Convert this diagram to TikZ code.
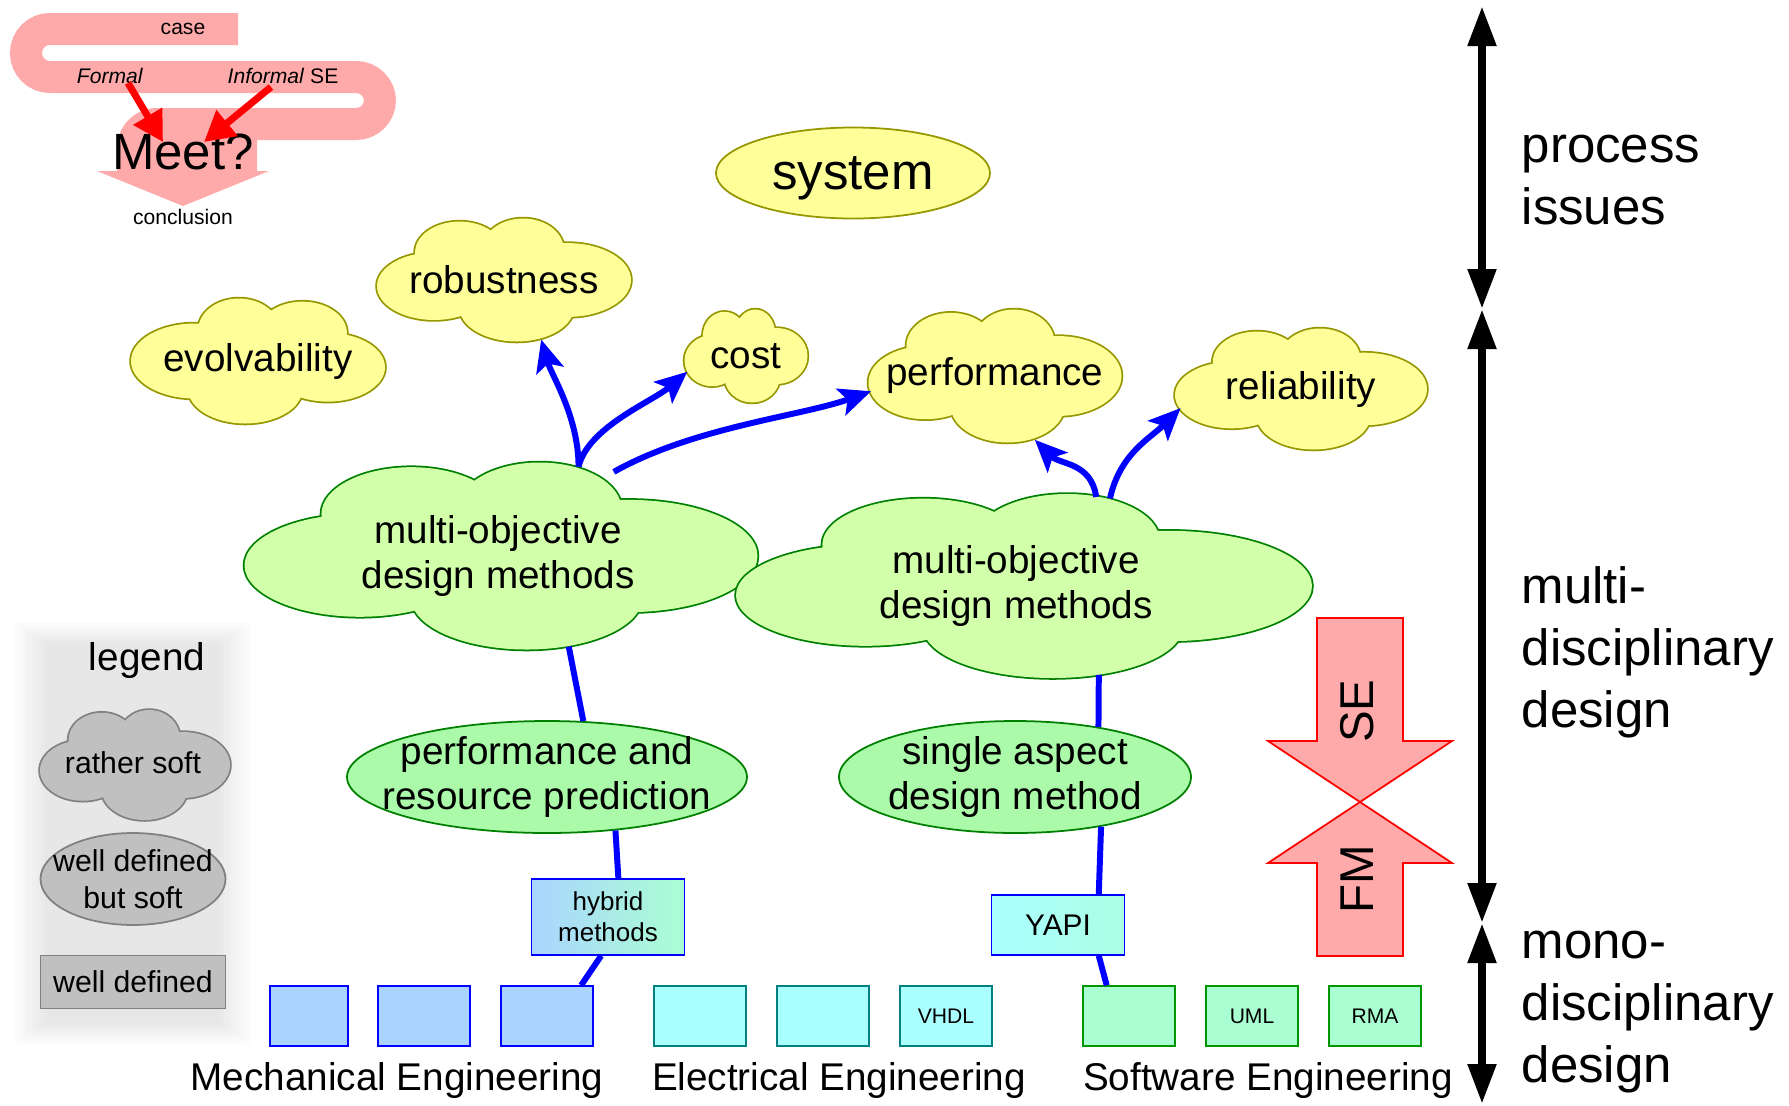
\documentclass[tikz,border=0pt]{standalone}
\usepackage{fontspec}
\setmainfont{Liberation Sans}
\usetikzlibrary{shapes.geometric,arrows.meta}

\definecolor{yellowfill}{RGB}{255,255,153}
\definecolor{yellowline}{RGB}{150,150,0}
\definecolor{mofill}{RGB}{210,255,170}
\definecolor{greenline}{RGB}{0,128,0}
\definecolor{ellfill}{RGB}{170,250,170}
\definecolor{mechfill}{RGB}{170,212,255}
\definecolor{elecfill}{RGB}{170,255,255}
\definecolor{elecline}{RGB}{0,128,128}
\definecolor{softfill}{RGB}{170,255,210}
\definecolor{softline}{RGB}{0,150,0}
\definecolor{pinkband}{RGB}{255,170,170}
\definecolor{legfill}{RGB}{192,192,192}
\definecolor{legline}{RGB}{128,128,128}

% Wolke aus Ellipsen (Einheitsbox -1..1)
\newcommand{\cloudlobes}{(-0.55,0.1) ellipse (0.45 and 0.55) (-0.35,-0.45) ellipse (0.35 and 0.5)
    (0.15,-0.5) ellipse (0.32 and 0.5) (0.5,0) ellipse (0.5 and 0.6) (0.1,0.45) ellipse (0.45 and 0.55)
    (0,0) ellipse (0.6 and 0.45)}
\tikzset{pics/puff/.style n args={2}{code={
    \draw[#2, line width=1pt] \cloudlobes;
    \fill[#1] \cloudlobes;
}}}

\begin{document}
\begin{tikzpicture}[x=1cm, y=-1cm,
    every node/.style={inner sep=0pt},
    hugefont/.style={font=\fontsize{14.5}{17.6}\selectfont},
    bigfont/.style={font=\fontsize{11}{13}\selectfont},
    smallfont/.style={font=\fontsize{8.6}{10.7}\selectfont},
    tinyfont/.style={font=\fontsize{6}{7}\selectfont},
    cloudtext/.style={ellipse, inner xsep=-0.3cm, bigfont, align=center},
    greenellipse/.style={ellipse, inner xsep=-0.24cm, inner ysep=-0.03cm,
        draw=greenline, fill=ellfill, line width=0.5pt, bigfont, align=center},
    mechbox/.style={draw=blue, fill=mechfill, minimum width=0.92cm, minimum height=0.60cm},
    elecbox/.style={draw=elecline, fill=elecfill, minimum width=0.92cm, minimum height=0.60cm, tinyfont},
    softbox/.style={draw=softline, fill=softfill, minimum width=0.92cm, minimum height=0.60cm, tinyfont},
    bluearrow/.style={draw=blue, line width=1.7pt, -{Stealth[length=0.32cm, width=0.28cm, inset=0.07cm]}},
    blueline/.style={draw=blue, line width=1.7pt},
    levelarrow/.style={line width=2.3pt, {Triangle[length=0.40cm, width=0.27cm]}-{Triangle[length=0.40cm, width=0.27cm]}},
    redarrow/.style={draw=red, line width=2pt, -{Triangle[length=0.30cm, width=0.32cm]}},
    legendshape/.style={draw=legline, fill=legfill, line width=0.5pt, smallfont, align=center}]

    \useasboundingbox (0,0) rectangle (17.89,11.05);

    % Band oben links (case -> conclusion)
    \draw[pinkband, line width=0.32cm, rounded corners=0.24cm] (2.38,0.29) -- (0.26,0.29) -- (0.26,0.77)
        -- (3.80,0.77) -- (3.80,1.24) -- (2.00,1.24);
    \fill[pinkband] (2.57,1.72) -- (2.57,1.08) -- (1.57,1.08) .. controls (1.35,1.08) and (1.17,1.26) .. (1.17,1.48)
        -- (1.17,1.72) -- cycle;
    \fill[pinkband] (0.97,1.71) -- (2.69,1.71) -- (1.83,2.06) -- cycle;
    \node[tinyfont] (casetext) at (1.83,0.29) {case};
    \node[tinyfont] (formal) at (1.10,0.76) {\textit{Formal}};
    \node[tinyfont] (informal) at (2.83,0.76) {\textit{Informal} SE};
    \node[hugefont] (meet) at (1.83,1.52) {Meet?};
    \node[tinyfont] (concl) at (1.83,2.17) {conclusion};
    \draw[redarrow] ([shift={(0.18,0.07)}]formal.center) -- ([shift={(-0.20,-0.10)}]meet.center);
    \draw[redarrow] ([shift={(-0.12,0.11)}]informal.center) -- ([shift={(0.21,-0.10)}]meet.center);

    % Systemebene
    \node[ellipse, draw=yellowline, fill=yellowfill, line width=0.5pt, hugefont, text depth=0pt,
        minimum width=2.74cm, minimum height=0.91cm] (system) at (8.53,1.73) {system};

    % Qualitaeten
    \pic[xscale=1.27, yscale=0.615] at (5.04,2.80) {puff={yellowfill}{yellowline}};
    \pic[xscale=-1.27, yscale=0.625] at (2.58,3.61) {puff={yellowfill}{yellowline}};
    \pic[xscale=0.615, yscale=0.465] at (7.46,3.56) {puff={yellowfill}{yellowline}};
    \pic[xscale=1.265, yscale=0.665] at (9.95,3.76) {puff={yellowfill}{yellowline}};
    \pic[xscale=1.26, yscale=0.605] at (13.01,3.89) {puff={yellowfill}{yellowline}};
    \node[cloudtext, minimum width=2.54cm, minimum height=1.23cm] (robust) at (5.04,2.80) {robustness};
    \node[cloudtext, minimum width=2.54cm, minimum height=1.25cm] (evolv) at (2.58,3.61) {evolvability};
    \node[cloudtext, minimum width=1.23cm, minimum height=0.93cm] (cost) at (7.46,3.56) {cost};
    \node[cloudtext, minimum width=2.53cm, minimum height=1.33cm] (perf) at (9.95,3.76) {performance};
    \node[cloudtext, minimum width=2.52cm, minimum height=1.21cm] (reliab) at (13.01,3.89) {reliability};

    % Entwurfsmethoden
    \pic[xscale=2.565, yscale=0.935] at (5.01,5.56) {puff={mofill}{greenline}};
    \pic[xscale=2.88, yscale=0.92] at (10.24,5.86) {puff={mofill}{greenline}};
    \node[cloudtext, minimum width=5.13cm, minimum height=1.87cm] (moA) at (4.98,5.56) {multi-objective\\design methods};
    \node[cloudtext, minimum width=5.76cm, minimum height=1.84cm] (moB) at (10.16,5.86) {multi-objective\\design methods};
    \node[greenellipse, minimum width=4.00cm, minimum height=1.12cm] (perfpred) at (5.47,7.77) {performance and\\resource prediction};
    \node[greenellipse, minimum width=3.52cm, minimum height=1.12cm] (single) at (10.15,7.77) {single aspect\\design method};
    \node[draw=blue, left color=mechfill, right color=softfill, minimum width=1.53cm, minimum height=0.76cm,
        align=center, font=\fontsize{7.4}{8.8}\selectfont] (hybrid) at (6.08,9.17) {hybrid\\methods};
    \node[draw=blue, left color=elecfill, right color=softfill!60!elecfill, minimum width=1.33cm, minimum height=0.60cm,
        font=\fontsize{8.5}{10}\selectfont] (yapi) at (10.58,9.25) {YAPI};

    % Disziplinen
    \node[mechbox, minimum width=0.78cm] (meA) at (3.09,10.16) {};
    \node[mechbox] (meB) at (4.24,10.16) {};
    \node[mechbox] (meC) at (5.47,10.16) {};
    \node[elecbox] (elA) at (7.00,10.16) {};
    \node[elecbox] (elB) at (8.23,10.16) {};
    \node[elecbox] (vhdl) at (9.46,10.16) {VHDL};
    \node[softbox] (swA) at (11.29,10.16) {};
    \node[softbox] (uml) at (12.52,10.16) {UML};
    \node[softbox] (rma) at (13.75,10.16) {RMA};
    \node[bigfont, anchor=base] (mechlabel) at (3.97,10.90) {Mechanical Engineering};
    \node[bigfont, anchor=base] (eleclabel) at (8.39,10.90) {Electrical Engineering};
    \node[bigfont, anchor=base] (softlabel) at (12.68,10.90) {Software Engineering};

    % Verbindungen
    \draw[blueline] (moA.-52) -- (perfpred.57);
    \draw[blueline] (perfpred.-38) -- (hybrid.75);
    \draw[blueline] (hybrid.-100) -- (meC.42);
    \draw[blueline] (moB.-47) -- (single.31);
    \draw[blueline] (single.-30) -- (yapi.37);
    \draw[blueline] (yapi.-37) -- (swA.126);
    \draw[bluearrow] (moA.48) .. controls +(0,-0.5) and +(0.1,0.35) .. (robust.-58);
    \draw[bluearrow] (moA.48) .. controls +(0.1,-0.4) and +(-0.35,0.3) .. (cost.195);
    \draw[bluearrow] (moA.36) .. controls +(0.8,-0.45) and +(-0.7,0.25) .. (perf.187);
    \draw[bluearrow] (moB.48) .. controls +(-0.05,-0.35) and +(0.25,0.25) .. (perf.-58);
    \draw[bluearrow] (moB.43) .. controls +(0.1,-0.45) and +(-0.3,0.3) .. (reliab.189);

    % Legende
    \foreach \i in {0,...,7}
        \fill[black, opacity=0.012] ({0.14+0.045*\i},{6.22+0.03*\i}) rectangle ({2.51-0.045*\i},{10.44-0.03*\i});
    \node[bigfont] (legendtitle) at (1.47,6.60) {legend};
    \pic[xscale=0.95, yscale=0.55] at (1.35,7.65) {puff={legfill}{legline}};
    \node[smallfont] (legcloud) at (1.33,7.63) {rather soft};
    \node[legendshape, ellipse, inner xsep=-0.16cm, minimum width=1.85cm, minimum height=0.92cm] (legell) at (1.33,8.79) {well defined\\but soft};
    \node[legendshape, minimum width=1.85cm, minimum height=0.53cm] (legbox) at (1.33,9.82) {well defined};

    % SE und FM
    \draw[red, fill=pinkband, line width=0.5pt] (13.17,6.18) -- (14.03,6.18) -- (14.03,7.41) -- (14.52,7.41)
        -- (13.60,8.02) -- (12.68,7.41) -- (13.17,7.41) -- cycle;
    \draw[red, fill=pinkband, line width=0.5pt] (13.17,9.56) -- (14.03,9.56) -- (14.03,8.63) -- (14.52,8.63)
        -- (13.60,8.02) -- (12.68,8.63) -- (13.17,8.63) -- cycle;
    \node[font=\fontsize{13.5}{16}\selectfont, rotate=90] (se) at (13.57,7.11) {SE};
    \node[font=\fontsize{13.5}{16}\selectfont, rotate=90] (fm) at (13.57,8.79) {FM};

    % Ebenen rechts
    \coordinate (lvtop) at (14.82,0.06);
    \coordinate (lvhigh) at (14.82,3.09);
    \coordinate (lvlow) at (14.82,9.23);
    \coordinate (lvbot) at (14.82,11.04);
    \draw[levelarrow] (lvtop) -- (lvhigh);
    \draw[levelarrow] (lvhigh) -- (lvlow);
    \draw[levelarrow] (lvlow) -- (lvbot);
    \node[hugefont, align=left, anchor=west] (proclabel) at (15.21,1.80) {process\\issues};
    \node[hugefont, align=left, anchor=west] (multilabel) at (15.21,6.52) {multi-\\disciplinary\\design};
    \node[hugefont, align=left, anchor=west] (monolabel) at (15.21,10.12) {mono-\\disciplinary\\design};

\end{tikzpicture}
\end{document}
